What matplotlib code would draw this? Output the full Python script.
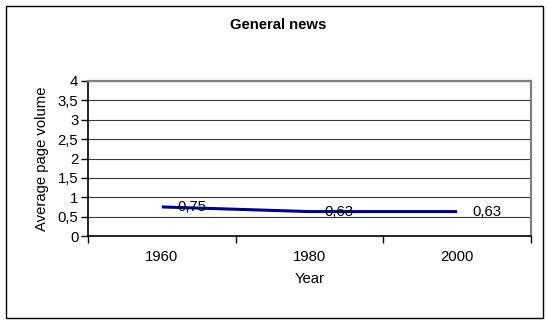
import matplotlib
matplotlib.use("Agg")
import matplotlib.pyplot as plt
from matplotlib.patches import Rectangle

plt.rcParams['font.family'] = ['Liberation Sans', 'DejaVu Sans']

years = ["1960", "1980", "2000"]
volume = [0.75, 0.63, 0.63]
value_labels = ["0,75", "0,63", "0,63"]
y_ticks = [0, 0.5, 1, 1.5, 2, 2.5, 3, 3.5, 4]
y_tick_labels = ["0", "0,5", "1", "1,5", "2", "2,5", "3", "3,5", "4"]

FS = 10.7

fig = plt.figure(figsize=(5.47, 3.2), dpi=100)
fig.patch.set_facecolor("white")

# outer chart frame
fig.add_artist(Rectangle((6 / 547, 1 - 318 / 320), 537 / 547, 312 / 320,
                         transform=fig.transFigure, fill=False,
                         edgecolor="black", linewidth=1.0))

ax = fig.add_axes([88 / 547, 1 - 236 / 320, 443 / 547, 155 / 320])
x = list(range(len(years)))
ax.plot(x, volume, color="#000080", linewidth=2.2, solid_capstyle="butt")
for xi, v, lab in zip(x, volume, value_labels):
    ax.annotate(lab, (xi, v), xytext=(11, 0), textcoords="offset points",
                ha="left", va="center", fontsize=FS, color="black")

ax.set_xlim(-0.5, len(years) - 0.5)
ax.set_ylim(0, 4)
ax.set_yticks(y_ticks)
ax.set_yticklabels(y_tick_labels, fontsize=FS)
ax.set_xticks([i - 0.5 for i in range(len(years) + 1)])
ax.set_xticklabels([])
ax.set_xticks(x, minor=True)
ax.set_xticklabels(years, minor=True, fontsize=FS)
ax.tick_params(axis="x", which="minor", length=0, pad=10)
ax.tick_params(axis="x", which="major", length=5, direction="out", width=1)
ax.tick_params(axis="y", length=5, direction="out", width=1, pad=2)

ax.yaxis.grid(True, color="#3a3a3a", linewidth=0.8)
ax.set_axisbelow(True)
for s in ("top", "right"):
    ax.spines[s].set_color("#808080")
    ax.spines[s].set_linewidth(1.6)
for s in ("left", "bottom"):
    ax.spines[s].set_color("black")
    ax.spines[s].set_linewidth(1.2)

ax.set_xlabel("Year", fontsize=FS, labelpad=6)
ax.set_ylabel("Average page volume", fontsize=FS, labelpad=6)
fig.text(278 / 547, 1 - 25 / 320, "General news", ha="center", va="center",
         fontsize=FS, fontweight="bold")

fig.savefig("out.png", dpi=100)
